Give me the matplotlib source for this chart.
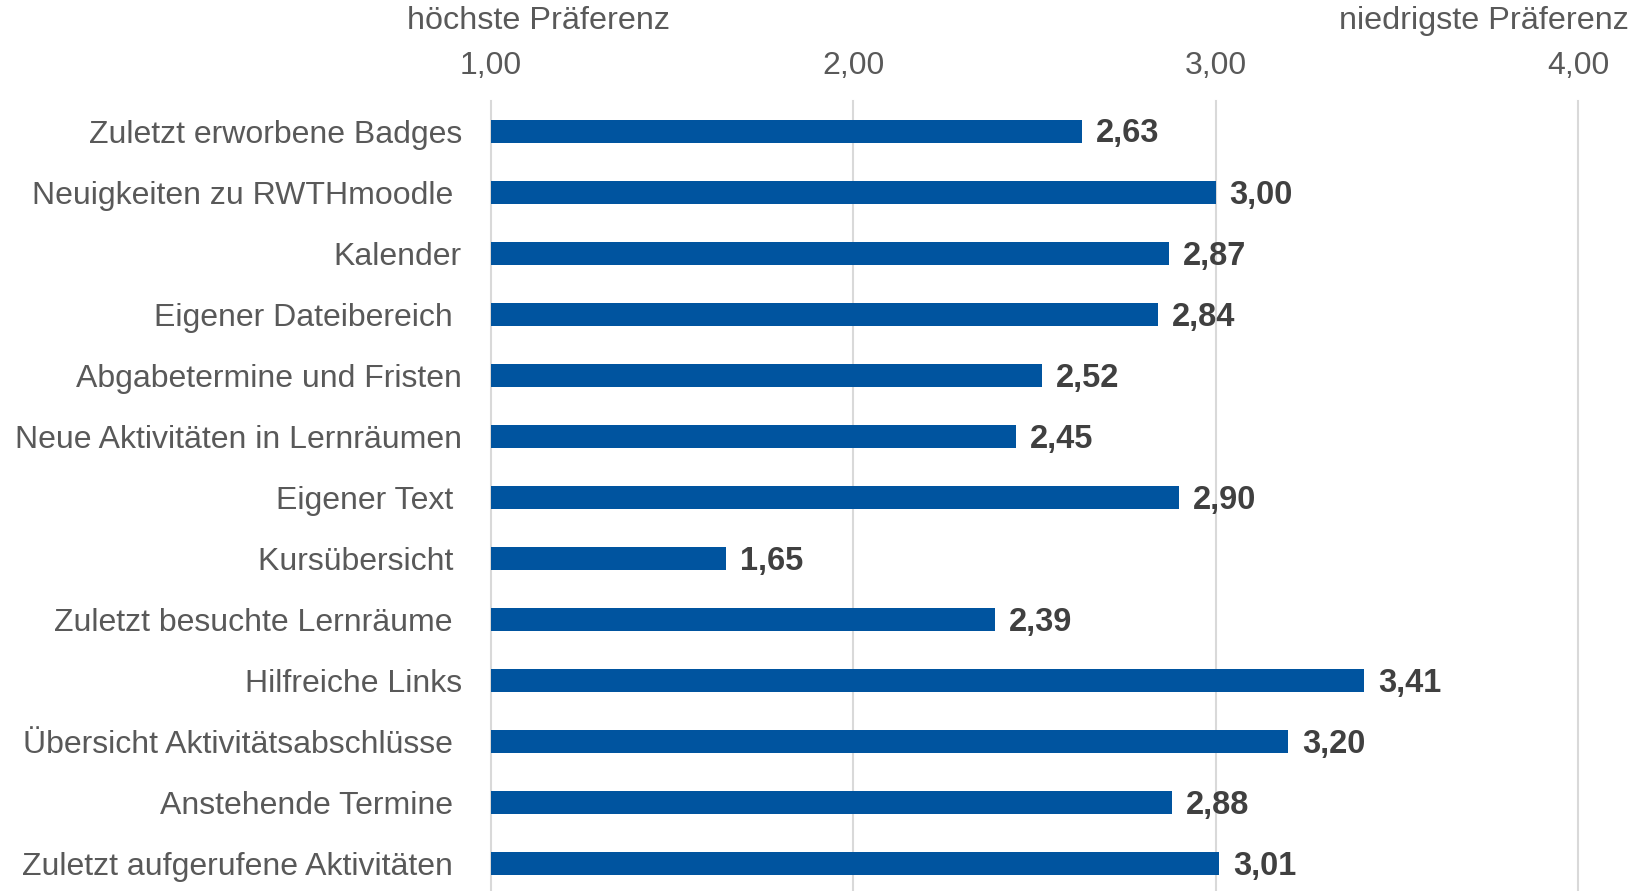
import matplotlib
matplotlib.use("Agg")
import matplotlib.pyplot as plt
from matplotlib.ticker import FixedLocator, FuncFormatter

# Schrift: Arial-kompatibel
matplotlib.rcParams['font.family'] = ['Liberation Sans', 'DejaVu Sans']

kategorien = [
    "Zuletzt erworbene Badges",
    "Neuigkeiten zu RWTHmoodle ",
    "Kalender",
    "Eigener Dateibereich ",
    "Abgabetermine und Fristen",
    "Neue Aktivitäten in Lernräumen",
    "Eigener Text ",
    "Kursübersicht ",
    "Zuletzt besuchte Lernräume ",
    "Hilfreiche Links",
    "Übersicht Aktivitätsabschlüsse ",
    "Anstehende Termine ",
    "Zuletzt aufgerufene Aktivitäten ",
]
werte = [2.63, 3.00, 2.87, 2.84, 2.52, 2.45, 2.90, 1.65, 2.39, 3.41, 3.20, 2.88, 3.01]
achsen_ticks = [1.0, 2.0, 3.0, 4.0]

BLAU = '#00549F'
GRAU_TEXT = '#595959'
GRAU_WERT = '#404040'
GRAU_GITTER = '#D9D9D9'


def komma(x, pos=None):
    return f"{x:.2f}".replace('.', ',')


fig = plt.figure(figsize=(16.35, 8.91), dpi=100)
ax = fig.add_axes([0.3003, 0.0, 0.9651 - 0.3003, 0.887])

y = list(range(len(kategorien)))
ax.barh(y, [w - 1.0 for w in werte], left=1.0, height=0.38, color=BLAU, zorder=3)

for yi, w in zip(y, werte):
    ax.annotate(komma(w), xy=(w, yi), xytext=(10, -2), textcoords='offset points',
                ha='left', va='center', fontsize=23.5, fontweight='bold', color=GRAU_WERT)

ax.set_ylim(len(kategorien) - 0.55, -0.5)
ax.set_xlim(1.0, 4.0)
ax.set_yticks(y)
ax.set_yticklabels(kategorien, fontsize=23.0, color=GRAU_TEXT)
ax.tick_params(axis='y', length=0, pad=21)

ax.xaxis.tick_top()
ax.xaxis.set_major_locator(FixedLocator(achsen_ticks))
ax.xaxis.set_major_formatter(FuncFormatter(komma))
ax.tick_params(axis='x', length=0, pad=14, labelsize=23, labelcolor=GRAU_TEXT)

ax.grid(axis='x', color=GRAU_GITTER, linewidth=1.5, zorder=0)
for gl in ax.get_xgridlines():
    gl.set_clip_on(False)
for s in ax.spines.values():
    s.set_visible(False)

fig.text(538 / 1635, 1 - 21 / 891, "höchste Präferenz", ha='center', va='center',
         fontsize=23.3, color=GRAU_TEXT)
fig.text(1629 / 1635, 1 - 21 / 891, "niedrigste Präferenz", ha='right', va='center',
         fontsize=23.3, color=GRAU_TEXT)

fig.savefig("out.png", dpi=100)
plt.close(fig)
